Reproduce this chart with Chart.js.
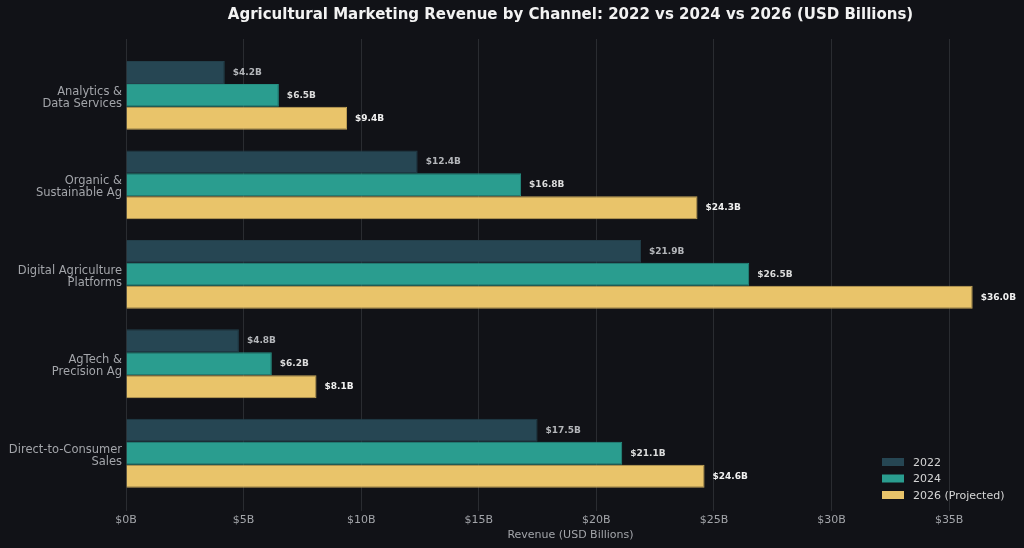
<!DOCTYPE html>
<html>
<head>
<meta charset="utf-8">
<script src="https://cdn.jsdelivr.net/npm/chart.js@4.4.1/dist/chart.umd.min.js"></script>
<style>
  html, body { margin: 0; padding: 0; background: #111217; }
  #wrap { width: 1024px; height: 548px; }
</style>
</head>
<body>
<div id="wrap"><canvas id="chart" width="1024" height="548"></canvas></div>
<script>
// categories, top to bottom
const channels = [
  ['Analytics &', 'Data Services'],
  ['Organic &', 'Sustainable Ag'],
  ['Digital Agriculture', 'Platforms'],
  ['AgTech &', 'Precision Ag'],
  ['Direct-to-Consumer', 'Sales']
];
const rev2022 = [4.2, 12.4, 21.9, 4.8, 17.5];
const rev2024 = [6.5, 16.8, 26.5, 6.2, 21.1];
const rev2026 = [9.4, 24.3, 36.0, 8.1, 24.6];
const seriesNames = ['2022', '2024', '2026 (Projected)'];
const xTicks = [0, 5, 10, 15, 20, 25, 30, 35];

const FONT = "'DejaVu Sans', sans-serif";
const colors = {
  bg: '#111217',
  c2022: '#264653',
  c2024: '#2a9d8f',
  c2026: '#e9c46a',
  grid: '#2a2c31',
  tick: '#a3a5aa',
  title: '#f2f2f2'
};

const points = arr => arr.map((v, i) => ({ x: v, y: i }));

// title over the plot area, value labels, legend inside plot
const decor = {
  id: 'decor',
  beforeDraw(chart) {
    const ctx = chart.ctx;
    ctx.save();
    ctx.fillStyle = colors.bg;
    ctx.fillRect(0, 0, chart.width, chart.height);
    ctx.restore();
  },
  afterDraw(chart) {
    const ctx = chart.ctx;
    const area = chart.chartArea;
    ctx.save();
    ctx.fillStyle = colors.title;
    ctx.font = 'bold 15px ' + FONT;
    ctx.textAlign = 'center';
    ctx.textBaseline = 'middle';
    ctx.fillText('Agricultural Marketing Revenue by Channel: 2022 vs 2024 vs 2026 (USD Billions)', (area.left + area.right) / 2, 15);

    const labelColors = ['#b4b6ba', '#dcdcdc', '#f2f2f2'];
    ctx.font = 'bold 9px ' + FONT;
    ctx.textAlign = 'left';
    chart.data.datasets.forEach((ds, di) => {
      chart.getDatasetMeta(di).data.forEach((bar, i) => {
        ctx.fillStyle = labelColors[di];
        ctx.fillText('$' + ds.data[i].x.toFixed(1) + 'B', bar.x + 8, bar.y);
      });
    });

    // legend
    ctx.font = '11px ' + FONT;
    chart.data.datasets.forEach((ds, di) => {
      const y = 462 + di * 16.5;
      ctx.fillStyle = ds.backgroundColor;
      ctx.fillRect(882, y - 4, 22, 8);
      ctx.fillStyle = '#d6d6d6';
      ctx.fillText(ds.label, 913, y + 1);
    });
    ctx.restore();
  }
};

new Chart(document.getElementById('chart'), {
  type: 'bar',
  data: {
    datasets: [
      { label: seriesNames[0], data: points(rev2022), backgroundColor: colors.c2022, borderColor: '#223f4a', borderWidth: 1 },
      { label: seriesNames[1], data: points(rev2024), backgroundColor: colors.c2024, borderColor: '#268f82', borderWidth: 1 },
      { label: seriesNames[2], data: points(rev2026), backgroundColor: colors.c2026, borderColor: '#c4a559', borderWidth: 1 }
    ]
  },
  options: {
    indexAxis: 'y',
    responsive: false,
    animation: false,
    categoryPercentage: 0.77,
    barPercentage: 1.0,
    layout: { padding: { top: 39, right: 9, left: 0, bottom: 0 } },
    plugins: {
      legend: { display: false },
      tooltip: { enabled: false }
    },
    scales: {
      x: {
        type: 'linear',
        min: 0,
        max: 37.8,
        afterBuildTicks: scale => { scale.ticks = xTicks.map(v => ({ value: v })); },
        afterFit: scale => { scale.height = 41; },
        border: { display: false },
        grid: { color: colors.grid, lineWidth: 1, tickLength: 4, tickColor: colors.grid },
        ticks: {
          color: colors.tick,
          font: { family: FONT, size: 11 },
          padding: 3,
          callback: v => '$' + v + 'B'
        },
        title: {
          display: true,
          text: 'Revenue (USD Billions)',
          color: colors.tick,
          font: { family: FONT, size: 11 },
          padding: { top: 0, bottom: 6 }
        }
      },
      y: {
        type: 'linear',
        reverse: true,
        offset: false,
        min: -0.63,
        max: 4.6,
        afterFit: scale => { scale.width = 126; },
        border: { display: false },
        grid: { display: false, drawTicks: false, offset: false },
        ticks: {
          stepSize: 1,
          includeBounds: false,
          color: colors.tick,
          font: { family: FONT, size: 11.5, lineHeight: 1.05 },
          padding: 4,
          labelOffset: 2.5,
          callback: v => Number.isInteger(v) ? channels[v] : ''
        }
      }
    }
  },
  plugins: [decor]
});
</script>
</body>
</html>
